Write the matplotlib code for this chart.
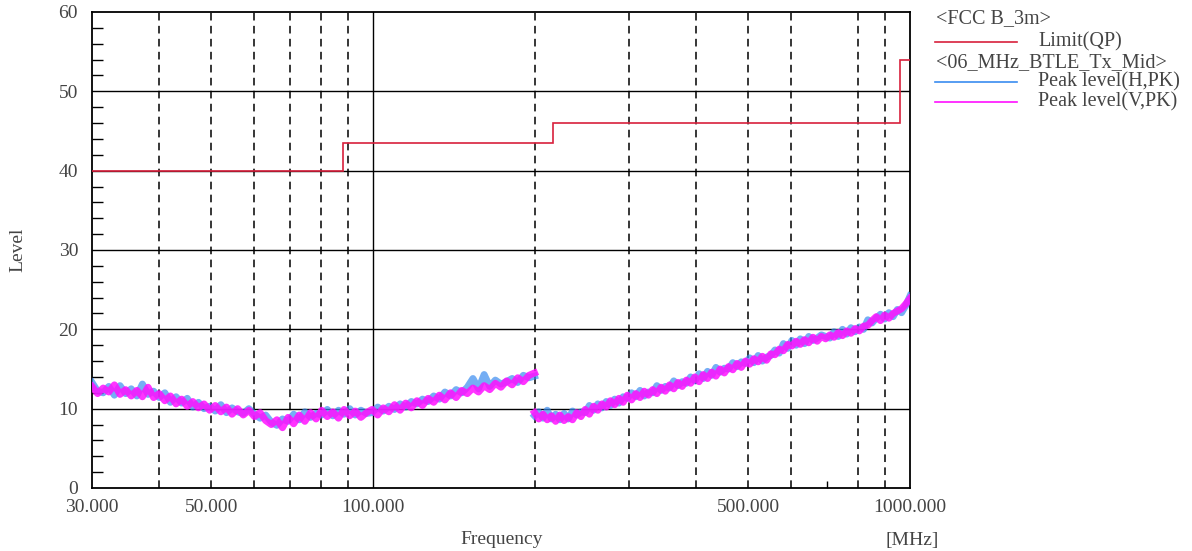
import numpy as np
import matplotlib
matplotlib.use('Agg')
from matplotlib import pyplot as plt
from matplotlib.lines import Line2D

plt.rcParams['font.family'] = ['Liberation Serif', 'DejaVu Serif']

# limit line (FCC B 3m, QP)
limit_edges = [30, 88, 216, 960, 1000]
limit_level = [40, 43.5, 46, 54]

# scan 1: 30 - 200 MHz, scan 2: 200 - 1000 MHz
freq_low = np.geomspace(30, 200, 80)
freq_high = np.geomspace(200, 1000, 90)

v_low = [12.8, 11.9, 12.6, 12.1, 13.0, 11.8, 12.4, 11.6, 12.3, 11.5, 12.7, 11.4,
         11.9, 11.0, 11.6, 10.6, 11.2, 10.3, 10.9, 10.1, 10.6,
         9.8, 10.4, 9.6, 10.2, 9.3, 10.0, 9.2, 9.8,
         9.0, 9.5, 8.5, 8.0, 8.6, 7.6,
         8.9, 8.1, 9.2, 8.4, 9.5, 8.7,
         9.8, 9.0, 9.6, 8.8, 9.9, 9.1, 9.7, 8.9, 9.5,
         9.9, 9.2, 10.1, 9.6, 10.5, 9.8, 10.7, 10.1,
         11.0, 10.4, 11.3, 10.8, 11.7, 11.1, 12.0, 11.4, 12.3,
         11.9, 12.6, 12.1, 12.9, 12.4, 13.2, 12.7, 13.5, 13.0, 13.9, 13.4, 14.2, 14.5]
h_low = [13.3, 12.2, 12.0, 12.8, 11.7, 12.9, 11.9, 12.5, 11.6, 13.1, 11.8, 12.2,
         11.4, 12.0, 10.8, 11.5, 10.7, 11.3, 10.2, 10.8, 10.0,
         10.3, 9.7, 10.5, 9.5, 10.1, 9.6, 9.4, 10.0,
         9.3, 8.8, 9.2, 8.3, 7.9, 8.7,
         8.4, 9.3, 8.6, 9.6, 8.9, 9.4,
         9.2, 9.9, 9.1, 9.8, 9.3, 10.0, 9.2, 9.8, 9.4,
         9.5, 10.2, 9.7, 10.3, 9.9, 10.6, 10.2, 10.9,
         10.6, 11.2, 10.9, 11.6, 11.2, 12.1, 11.6, 12.4, 12.0,
         12.7, 13.8, 12.5, 14.3, 12.8, 13.6, 13.1, 13.4, 13.8, 13.3, 14.2, 13.9, 14.1]
v_high = [9.5, 8.7, 9.3, 8.6, 9.1, 8.4, 9.2, 8.5,
          9.0, 8.6, 9.5, 9.0,
          9.9, 9.3, 10.3, 9.8, 10.6, 10.2, 11.0, 10.5, 11.3, 10.8,
          11.7, 11.1, 11.9, 11.4, 12.2, 11.7, 12.4, 11.9, 12.7, 12.2, 13.0, 12.5, 13.3, 12.8, 13.6, 13.2,
          14.0, 13.4, 14.3, 13.8, 14.6, 14.1, 15.0, 14.5, 15.3, 14.9, 15.7, 15.2, 16.0,
          15.6, 16.3, 15.9, 16.6, 16.1,
          16.9, 16.8, 17.5, 17.3, 18.1,
          17.9, 18.5, 18.1, 18.7, 18.3, 19.0, 18.5, 19.1,
          18.8, 19.3, 19.0, 19.6, 19.2, 19.8, 19.5, 20.1,
          19.8, 20.4, 20.5, 21.1,
          21.6, 21.1, 21.8, 21.4, 22.0,
          22.3, 22.6, 23.2, 23.9]
h_high = [9.1, 9.6, 8.8, 9.8, 8.7, 9.3, 8.6, 9.4,
          8.7, 9.7, 9.2, 9.6,
          9.5, 10.4, 9.8, 10.6, 10.1, 10.9, 10.4, 11.2, 10.7, 11.5,
          11.3, 12.0, 11.5, 12.3, 11.6, 12.1, 12.0, 12.9, 12.3, 12.8, 12.6, 13.5, 12.9, 13.4, 13.2, 14.0,
          13.5, 14.4, 13.8, 14.7, 14.2, 15.2, 14.6, 15.1, 15.0, 15.8, 15.3, 15.9, 15.7,
          16.4, 15.8, 16.7, 16.0, 16.5,
          16.7, 17.4, 17.0, 18.2, 17.6,
          18.6, 18.0, 18.8, 18.2, 19.1, 18.6, 18.9, 19.3,
          19.1, 18.9, 19.7, 19.1, 20.0, 19.4, 20.2, 19.7,
          20.3, 20.0, 21.2, 20.8,
          21.4, 21.9, 21.3, 22.1, 21.6,
          22.5, 22.1, 23.0, 24.2]

x_major = [30, 50, 100, 500, 1000]
x_major_labels = ['30.000', '50.000', '100.000', '500.000', '1000.000']
x_dashed = [40, 50, 60, 70, 80, 90, 200, 300, 400, 500, 600, 800, 900]

text_col = '#444444'
blue = '#3a8cf0'
magenta = '#ff10ff'
red = '#d8203c'

fig = plt.figure(figsize=(11.92, 5.51), dpi=100)
ax = fig.add_axes([92 / 1192, 63 / 551, 818 / 1192, 476 / 551])

ax.set_xscale('log')
ax.set_xlim(30, 1000)
ax.set_ylim(0, 60)

# grid
for y in range(10, 60, 10):
    ax.axhline(y, color='black', lw=1.0, zorder=1)
ax.axvline(100, color='black', lw=1.0, zorder=1)
for f in x_dashed:
    ax.axvline(f, color='black', lw=1.1, ls=(0, (5, 3.5)), zorder=1)

# traces, drawn wide so they read as the noisy band of the receiver scan
ax.plot(freq_low, h_low, color=blue, lw=5.0, alpha=0.7, zorder=3)
ax.plot(freq_high, h_high, color=blue, lw=5.0, alpha=0.7, zorder=3)
ax.plot(freq_low, v_low, color=magenta, lw=5.0, alpha=0.85, zorder=4)
ax.plot(freq_high, v_high, color=magenta, lw=5.0, alpha=0.85, zorder=4)
ax.stairs(limit_level, limit_edges, color=red, lw=1.2, baseline=None, zorder=5)

ax.set_xticks(x_major)
ax.set_xticklabels(x_major_labels)
ax.set_xticks([700], minor=True)
ax.tick_params(axis='x', which='major', length=0, pad=8, labelsize=14, labelcolor=text_col)
ax.tick_params(axis='x', which='minor', direction='in', length=5, width=1)
ax.set_yticks(range(0, 61, 10))
ax.set_yticks(range(0, 61, 2), minor=True)
ax.tick_params(axis='y', which='major', length=0, pad=10, labelsize=14, labelcolor=text_col)
ax.tick_params(axis='y', which='minor', direction='in', length=8, width=1)
for s in ax.spines.values():
    s.set_linewidth(1.3)

fig.text(18 / 1192, 1 - 250 / 551, 'Level', rotation=90, ha='center', va='center',
         fontsize=14, color=text_col)
fig.text(502 / 1192, 1 - 540 / 551, 'Frequency', ha='center', va='center',
         fontsize=14, color=text_col)
fig.text(912 / 1192, 1 - 540 / 551, '[MHz]', ha='center', va='center',
         fontsize=14, color=text_col)

# legend on the right
legend_rows = [
    ('<FCC B_3m>', None, 19),
    ('Limit(QP)', red, 42),
    ('<06_MHz_BTLE_Tx_Mid>', None, 63),
    ('Peak level(H,PK)', blue, 82),
    ('Peak level(V,PK)', magenta, 102),
]
for label, col, ypx in legend_rows:
    yf = 1 - ypx / 551
    if col is None:
        fig.text(936 / 1192, yf, label, ha='left', va='center', fontsize=14.5, color=text_col)
    else:
        fig.add_artist(Line2D([935 / 1192, 1017 / 1192], [yf, yf], color=col, lw=1.2,
                              transform=fig.transFigure))
        fig.text(1038 / 1192, yf, label, ha='left', va='center', fontsize=14.5, color=text_col)

fig.savefig('out.png', dpi=100)
